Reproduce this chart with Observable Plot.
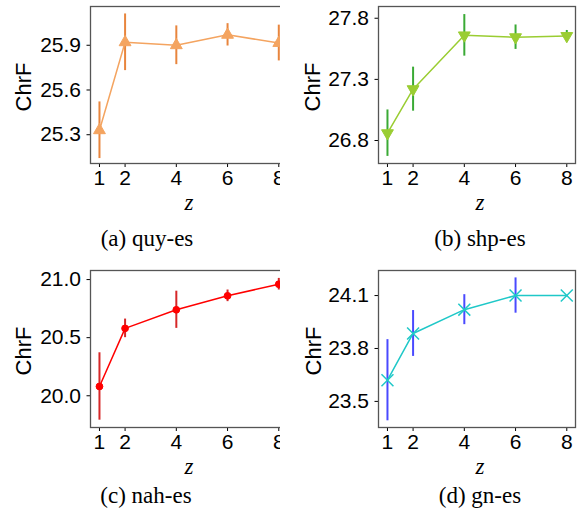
<!DOCTYPE html>
<html>
<head>
<meta charset="utf-8">
<script src="https://cdn.jsdelivr.net/npm/d3@7"></script>
<script src="https://cdn.jsdelivr.net/npm/@observablehq/plot@0.6"></script>
<style>
  html, body { margin: 0; padding: 0; background: #fff; }
  #root { position: relative; width: 579px; height: 517px; overflow: hidden; background: #fff; }
  .panel { position: absolute; overflow: hidden; height: 200px; }
  .panel svg { max-width: none !important; display: block; }
  .lab { position: absolute; white-space: nowrap; line-height: 1; transform: translate(-50%, -50%); color: #000; }
  .ylab { font-family: "Liberation Sans", Arial, sans-serif; font-size: 22px; transform: translate(-50%, -50%) rotate(-90deg); }
  .zlab { font-family: "Liberation Serif", "Times New Roman", serif; font-style: italic; font-size: 23px; }
  .cap { font-family: "Liberation Serif", "Times New Roman", serif; font-size: 23px; }
</style>
</head>
<body>
<div id="root"></div>
<script>
// ---- data ----
const zValues = [1, 2, 4, 6, 8];
const panelNames = ["(a) quy-es", "(b) shp-es", "(c) nah-es", "(d) gn-es"];
const axisXLabel = "z";
const axisYLabel = "ChrF";

const quyMean = [25.33, 25.92, 25.90, 25.97, 25.915];
const quyErr  = [0.19, 0.19, 0.13, 0.075, 0.12];
const quyTicks = [25.3, 25.6, 25.9];

const shpMean = [26.86, 27.22, 27.66, 27.645, 27.655];
const shpErr  = [0.19, 0.18, 0.17, 0.10, 0.045];
const shpTicks = [26.8, 27.3, 27.8];

const nahMean = [20.08, 20.58, 20.74, 20.86, 20.96];
const nahErr  = [0.29, 0.08, 0.16, 0.05, 0.05];
const nahTicks = [20.0, 20.5, 21.0];

const gnMean = [23.62, 23.885, 24.02, 24.10, 24.10];
const gnErr  = [0.23, 0.13, 0.085, 0.10, 0.0];
const gnTicks = [23.5, 23.8, 24.1];

// triangle pointing down (matplotlib "v")
const triangleDown = {
  draw(context, size) {
    const s3 = Math.sqrt(3);
    const y = -Math.sqrt(size / (s3 * 3));
    context.moveTo(0, -y * 2);
    context.lineTo(-s3 * y, y);
    context.lineTo(s3 * y, y);
    context.closePath();
  }
};

function panel(mean, err, yDomain, yTicks, opts) {
  const data = zValues.map((z, i) => ({z, v: mean[i], lo: mean[i] - err[i], hi: mean[i] + err[i]}));
  return Plot.plot({
    width: 290, height: 190,
    marginLeft: 90, marginRight: 3, marginTop: 6, marginBottom: 27,
    style: {fontFamily: "'Liberation Sans', Arial, sans-serif", fontSize: "21px", color: "#000", background: "transparent", overflow: "visible", maxWidth: "none"},
    x: {domain: [0.65, 8.34]},
    y: {domain: yDomain},
    marks: [
      Plot.axisX({ticks: zValues, tickSize: 4, tickPadding: 3, tickFormat: d => String(d), label: null, fontSize: 21}),
      Plot.axisY({ticks: yTicks, tickSize: 3.5, tickPadding: 6, tickFormat: d3.format(".1f"), label: null, fontSize: 21}),
      Plot.ruleX(data, {x: "z", y1: "lo", y2: "hi", stroke: opts.bar, strokeWidth: 2}),
      Plot.line(data, {x: "z", y: "v", stroke: opts.line, strokeWidth: 1.5}),
      Plot.dot(data, {x: "z", y: "v", symbol: opts.symbol, r: opts.r, fill: opts.fill, stroke: opts.stroke, strokeWidth: opts.sw || 1}),
      Plot.frame({stroke: "#555", strokeWidth: 1.3})
    ]
  });
}

const root = document.getElementById("root");
function place(svg, left, top, clipW) {
  const d = document.createElement("div");
  d.className = "panel";
  d.style.left = left + "px";
  d.style.top = top + "px";
  d.style.width = clipW + "px";
  d.appendChild(svg);
  root.appendChild(d);
}
function label(cls, text, x, y) {
  const d = document.createElement("div");
  d.className = "lab " + cls;
  d.textContent = text;
  d.style.left = x + "px";
  d.style.top = y + "px";
  root.appendChild(d);
}

place(panel(quyMean, quyErr, [25.107, 26.16], quyTicks,
  {line: "#f4a460", bar: "#e8853d", symbol: "triangle", r: 4.4, fill: "#f4a460", stroke: "#f4a460"}), 0, 0, 280);
place(panel(shpMean, shpErr, [26.612, 27.896], shpTicks,
  {line: "#9acd32", bar: "#3aaa35", symbol: triangleDown, r: 4.4, fill: "#9acd32", stroke: "#9acd32"}), 288, 0, 291);
place(panel(nahMean, nahErr, [19.727, 21.078], nahTicks,
  {line: "#ff0000", bar: "#d62728", symbol: "circle", r: 3.4, fill: "#ff0000", stroke: "#ff0000"}), 0, 264, 280);
place(panel(gnMean, gnErr, [23.352, 24.242], gnTicks,
  {line: "#1fc8c8", bar: "#4a4aff", symbol: "times", r: 5.5, fill: "none", stroke: "#1fc8c8", sw: 1.5}), 288, 264, 291);

label("ylab", axisYLabel, 24, 87);
label("ylab", axisYLabel, 313, 87);
label("ylab", axisYLabel, 24, 351);
label("ylab", axisYLabel, 314, 351);

label("zlab", axisXLabel, 189, 202);
label("zlab", axisXLabel, 480, 202);
label("zlab", axisXLabel, 189, 466);
label("zlab", axisXLabel, 480, 466);

label("cap", panelNames[0], 147, 238);
label("cap", panelNames[1], 480, 238);
label("cap", panelNames[2], 146, 495);
label("cap", panelNames[3], 480, 495);
</script>
</body>
</html>
